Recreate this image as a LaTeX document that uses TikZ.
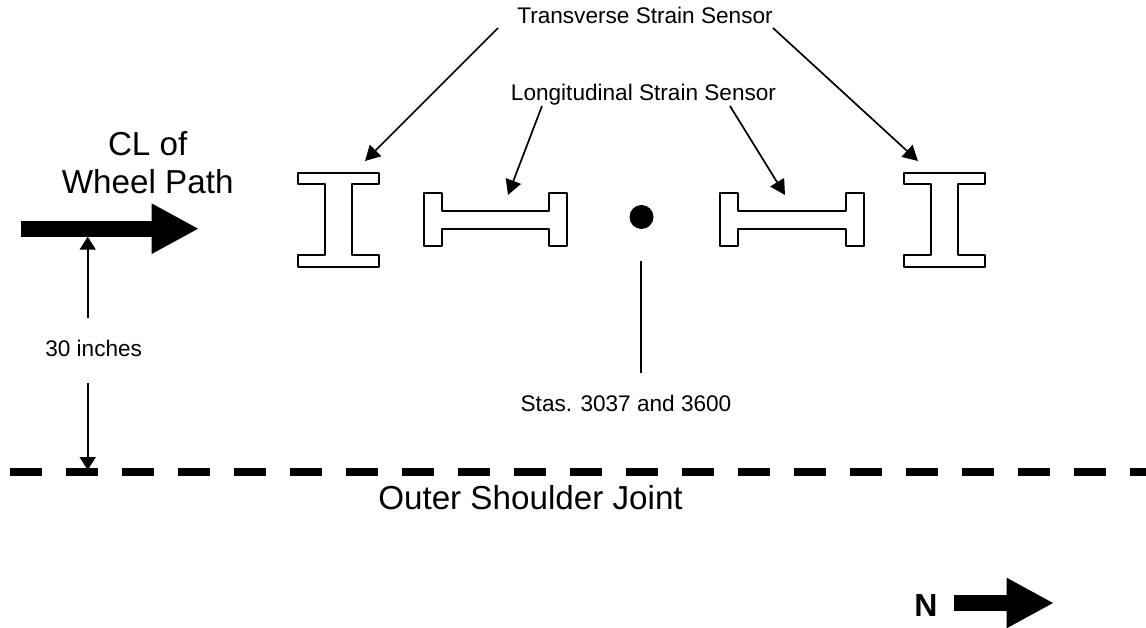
\documentclass[tikz,border=0pt]{standalone}
\usepackage{fontspec}
\setmainfont{Liberation Sans}
\usetikzlibrary{arrows.meta}
\tikzset{
 x=1pt, y=-1pt,
 lbl/.style={inner sep=0pt, anchor=base, font=\fontsize{22.6}{27}\selectfont, align=center},
 biglbl/.style={inner sep=0pt, anchor=base, font=\fontsize{33.2}{38.5}\selectfont, align=center},
 sensor/.style={line width=2pt, line join=round},
 pointer/.style={line width=1.7pt, -{Triangle[length=15pt,width=16pt]}},
 dimline/.style={line width=1.7pt, -{Triangle[length=13pt,width=16pt]}},
 fatarrow/.style={line width=16pt, -{Triangle[length=47.5pt,width=47pt]}},
}
\begin{document}
\begin{tikzpicture}
 \useasboundingbox (0,0) rectangle (1146,628);
 % labels
 \node[lbl] (trans) at (645,23.3) {Transverse Strain Sensor};
 \node[lbl] (longi) at (643.5,100.7) {Longitudinal Strain Sensor};
 \node[lbl] (stas) at (626,411) {Stas. 3037 and 3600};
 \node[lbl] (inches) at (93.7,356) {30 inches};
 \node[biglbl] (wheel) at (147.7,194) {CL of\\Wheel Path};
 \node[biglbl] (joint) at (530.5,509.7) {Outer Shoulder Joint};
 \node[anchor=base, inner sep=0pt, font=\fontsize{32}{38}\selectfont\bfseries] (north) at (926,616.5) {N};
 % transverse sensors
 \draw[sensor] (298,173) -- (379,173) -- (379,184.5) -- (351.7,184.5) -- (351.7,255.5) -- (379,255.5) -- (379,267) -- (298,267) -- (298,255.5) -- (325,255.5) -- (325,184.5) -- (298,184.5) -- cycle;
 \draw[sensor] (904,173) -- (985,173) -- (985,184.5) -- (957.7,184.5) -- (957.7,255.5) -- (985,255.5) -- (985,267) -- (904,267) -- (904,255.5) -- (931,255.5) -- (931,184.5) -- (904,184.5) -- cycle;
 % longitudinal sensors
 \draw[sensor] (424,193.5) -- (441.7,193.5) -- (441.7,211.3) -- (549,211.3) -- (549,193.5) -- (567.3,193.5) -- (567.3,246.5) -- (549,246.5) -- (549,229) -- (441.7,229) -- (441.7,246.5) -- (424,246.5) -- cycle;
 \draw[sensor] (720,193.5) -- (738,193.5) -- (738,211.3) -- (845.5,211.3) -- (845.5,193.5) -- (863.7,193.5) -- (863.7,246.5) -- (845.5,246.5) -- (845.5,229) -- (738,229) -- (738,246.5) -- (720,246.5) -- cycle;
 % pointers
 \coordinate (t1) at (365,161);
 \coordinate (t2) at (918,161);
 \coordinate (l1) at (508,195);
 \coordinate (l2) at (785,195);
 \coordinate (ts1) at (498,28);
 \coordinate (ts2) at (773,28);
 \coordinate (ls1) at (542,106);
 \coordinate (ls2) at (730,106);
 \draw[pointer] (ts1) -- (t1);
 \draw[pointer] (ts2) -- (t2);
 \draw[pointer] (ls1) -- (l1);
 \draw[pointer] (ls2) -- (l2);
 % station
 \node[circle, fill=black, inner sep=0pt, minimum size=24pt] (dot) at (641.5,217) {};
 \coordinate (c1) at (641,261);
 \coordinate (c2) at (641,373);
 \draw[line width=1.7pt] (c1) -- (c2);
 % wheel path
 \coordinate (w1) at (21,228.7);
 \coordinate (w2) at (199,228.7);
 \draw[fatarrow] (w1) -- (w2);
 \coordinate (d0) at (87.7,236.7);
 \coordinate (d1) at (87.7,317.7);
 \coordinate (d2) at (87.7,382.7);
 \coordinate (d3) at (87.7,470);
 \draw[dimline] (d1) -- (d0);
 \draw[dimline] (d2) -- (d3);
 % joint
 \coordinate (j1) at (10,472);
 \coordinate (j2) at (1146,472);
 \draw[line width=8pt, dash pattern=on 32pt off 24pt] (j1) -- (j2);
 % north
 \coordinate (n1) at (954,603);
 \coordinate (n2) at (1054,603);
 \draw[fatarrow] (n1) -- (n2);
\end{tikzpicture}
\end{document}
